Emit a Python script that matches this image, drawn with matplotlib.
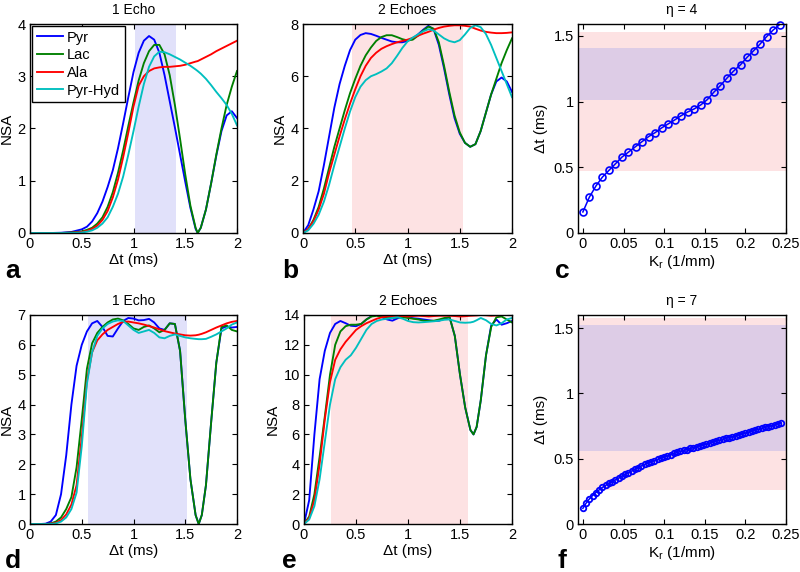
import matplotlib
matplotlib.use("Agg")
import matplotlib.pyplot as plt
from matplotlib.ticker import FormatStrFormatter

plt.rcParams['font.family'] = ['Liberation Sans', 'DejaVu Sans']

# ---- data ----
names = ['Pyr', 'Lac', 'Ala', 'Pyr-Hyd']
colors = ['#0000ff', '#008000', '#ff0000', '#00bfbf']

# panel a: 1 echo, eta = 4
a_dt = [0, 0.1, 0.2, 0.3, 0.4, 0.5, 0.55, 0.6, 0.65, 0.7, 0.75, 0.8, 0.85, 0.9, 0.95, 1.0,
        1.05, 1.1, 1.15, 1.2, 1.25, 1.3, 1.35, 1.4, 1.45, 1.5, 1.55, 1.6, 1.62, 1.65, 1.7,
        1.75, 1.8, 1.85, 1.9, 1.95, 2.0]
a_pyr = [0, 0, 0, 0.005, 0.02, 0.07, 0.12, 0.22, 0.38, 0.6, 0.88, 1.2, 1.62, 2.1, 2.6, 3.08,
         3.45, 3.68, 3.77, 3.7, 3.45, 3.02, 2.52, 2.02, 1.5, 0.98, 0.48, 0.08, 0.0, 0.1, 0.45,
         0.95, 1.48, 1.95, 2.25, 2.33, 2.2]
a_lac = [0, 0, 0, 0, 0.01, 0.03, 0.06, 0.1, 0.18, 0.3, 0.5, 0.78, 1.15, 1.58, 2.05, 2.5,
         2.92, 3.25, 3.48, 3.6, 3.6, 3.42, 3.02, 2.45, 1.8, 1.12, 0.52, 0.1, 0.0, 0.1, 0.45,
         0.95, 1.5, 2.0, 2.45, 2.8, 3.1]
a_ala = [0, 0, 0, 0, 0.005, 0.02, 0.04, 0.08, 0.14, 0.25, 0.42, 0.68, 1.02, 1.45, 1.92, 2.42,
         2.82, 3.0, 3.1, 3.15, 3.17, 3.18, 3.18, 3.19, 3.2, 3.22, 3.25, 3.28, 3.29, 3.32, 3.37,
         3.42, 3.48, 3.53, 3.58, 3.63, 3.68]
a_hyd = [0, 0, 0, 0, 0, 0.01, 0.025, 0.05, 0.1, 0.18, 0.3, 0.5, 0.75, 1.08, 1.5, 1.95,
         2.42, 2.85, 3.18, 3.38, 3.47, 3.46, 3.42, 3.37, 3.32, 3.26, 3.2, 3.13, 3.1, 3.05, 2.95,
         2.83, 2.7, 2.58, 2.45, 2.28, 2.06]

# panel b: 2 echoes, eta = 4
b_dt = [0, 0.05, 0.1, 0.15, 0.2, 0.25, 0.3, 0.35, 0.4, 0.45, 0.5, 0.55, 0.6, 0.65, 0.7, 0.75,
        0.8, 0.85, 0.9, 0.95, 1.0, 1.05, 1.1, 1.15, 1.2, 1.25, 1.3, 1.35, 1.4, 1.45, 1.5, 1.55,
        1.6, 1.65, 1.7, 1.75, 1.8, 1.85, 1.9, 1.95, 2.0]
b_pyr = [0, 0.3, 0.9, 1.6, 2.6, 3.7, 4.8, 5.7, 6.4, 7.0, 7.4, 7.58, 7.65, 7.62, 7.55, 7.47,
         7.4, 7.33, 7.3, 7.3, 7.35, 7.45, 7.6, 7.78, 7.93, 7.8, 7.2, 6.3, 5.3, 4.4, 3.8, 3.45,
         3.3, 3.4, 3.9, 4.6, 5.3, 5.8, 5.95, 5.8, 5.4]
b_lac = [0, 0.15, 0.5, 1.0, 1.7, 2.5, 3.3, 4.0, 4.7, 5.35, 5.9, 6.4, 6.8, 7.1, 7.35, 7.5,
         7.57, 7.57, 7.5, 7.42, 7.37, 7.4, 7.55, 7.75, 7.9, 7.82, 7.3, 6.4, 5.4, 4.5, 3.85, 3.45,
         3.3, 3.4, 3.9, 4.6, 5.3, 5.9, 6.5, 7.0, 7.45]
b_ala = [0, 0.15, 0.45, 0.9, 1.5, 2.3, 3.0, 3.7, 4.35, 4.95, 5.5, 6.0, 6.4, 6.7, 6.9, 7.05,
         7.15, 7.23, 7.3, 7.35, 7.4, 7.47, 7.55, 7.63, 7.7, 7.78, 7.85, 7.9, 7.93, 7.95, 7.95, 7.93,
         7.9, 7.82, 7.75, 7.7, 7.67, 7.65, 7.65, 7.66, 7.68]
b_hyd = [0, 0.1, 0.35, 0.7, 1.2, 1.85, 2.6, 3.3, 4.0, 4.65, 5.2, 5.6, 5.85, 6.0, 6.08, 6.18,
         6.3, 6.5, 6.78, 7.08, 7.33, 7.48, 7.6, 7.72, 7.8, 7.75, 7.6, 7.45, 7.35, 7.3, 7.38, 7.6,
         7.85, 7.95, 7.88, 7.62, 7.2, 6.7, 6.2, 5.7, 5.2]

# panels d, e: eta = 7
de_dt = [0, 0.05, 0.1, 0.15, 0.2, 0.25, 0.3, 0.35, 0.4, 0.45, 0.5, 0.55, 0.6, 0.65, 0.7, 0.75,
         0.8, 0.85, 0.9, 0.95, 1.0, 1.05, 1.1, 1.15, 1.2, 1.25, 1.3, 1.35, 1.4, 1.45, 1.5, 1.55,
         1.6, 1.63, 1.66, 1.7, 1.75, 1.8, 1.85, 1.9, 1.95, 2.0]
d_pyr = [0, 0, 0, 0.01, 0.08, 0.3, 1.0, 2.3, 4.0, 5.3, 6.0, 6.45, 6.72, 6.8, 6.6, 6.3,
         6.28, 6.55, 6.8, 6.9, 6.88, 6.82, 6.83, 6.87, 6.75, 6.55, 6.5, 6.72, 6.7, 5.8, 3.5, 1.5,
         0.3, 0.0, 0.3, 1.3, 3.4, 5.4, 6.55, 6.62, 6.58, 6.6]
d_lac = [0, 0, 0, 0, 0.02, 0.08, 0.22, 0.5, 0.9, 1.9, 3.5, 5.2, 6.05, 6.4, 6.6, 6.75,
         6.85, 6.88, 6.82, 6.7, 6.55, 6.5, 6.6, 6.65, 6.55, 6.42, 6.5, 6.72, 6.7, 5.8, 3.5, 1.5,
         0.3, 0.0, 0.3, 1.3, 3.4, 5.4, 6.6, 6.65, 6.5, 6.45]
d_ala = [0, 0, 0, 0, 0.01, 0.04, 0.13, 0.32, 0.65, 1.3, 2.9, 4.8, 5.75, 6.15, 6.35, 6.5,
         6.6, 6.7, 6.77, 6.78, 6.75, 6.72, 6.68, 6.63, 6.58, 6.52, 6.46, 6.42, 6.38, 6.35, 6.32, 6.31,
         6.32, 6.34, 6.37, 6.42, 6.5, 6.58, 6.65, 6.72, 6.77, 6.8]
d_hyd = [0, 0, 0, 0, 0, 0.02, 0.08, 0.22, 0.5, 1.05, 2.6, 4.7, 5.75, 6.3, 6.55, 6.7,
         6.78, 6.82, 6.8, 6.65, 6.5, 6.4, 6.45, 6.5, 6.4, 6.25, 6.22, 6.3, 6.35, 6.3, 6.25, 6.22,
         6.2, 6.19, 6.19, 6.2, 6.27, 6.35, 6.45, 6.55, 6.68, 6.75]
e_pyr = [0, 1.6, 6.0, 9.7, 11.6, 12.8, 13.4, 13.6, 13.45, 13.28, 13.25, 13.4, 13.7, 13.93, 14.0, 13.85,
         13.7, 13.62, 13.78, 13.9, 13.85, 13.78, 13.75, 13.7, 13.65, 13.6, 13.62, 13.75, 13.85, 12.6, 10.0, 7.8,
         6.3, 6.0, 6.5, 8.3, 11.3, 13.3, 13.7, 13.35, 13.45, 13.6]
e_lac = [0, 0.5, 2.0, 4.5, 7.2, 10.0, 12.0, 12.9, 13.25, 13.35, 13.35, 13.4, 13.7, 13.9, 13.95, 13.88,
         13.8, 13.8, 13.85, 13.85, 13.8, 13.75, 13.7, 13.62, 13.6, 13.62, 13.7, 13.8, 13.85, 12.6, 10.0, 7.8,
         6.3, 6.0, 6.5, 8.3, 11.3, 13.2, 13.85, 13.9, 13.7, 13.5]
e_ala = [0, 0.4, 1.6, 4.0, 7.0, 9.5, 11.0, 11.7, 12.2, 12.6, 13.0, 13.25, 13.45, 13.6, 13.75, 13.85,
         13.9, 13.93, 13.95, 13.93, 13.9, 13.93, 13.95, 13.93, 13.9, 13.93, 13.95, 13.95, 13.95, 13.93, 13.9, 13.92,
         13.95, 13.96, 13.97, 14.0, 13.98, 13.95, 13.97, 14.0, 14.0, 14.0]
e_hyd = [0, 0.3, 1.2, 3.0, 5.5, 8.0, 9.7, 10.5, 11.0, 11.3, 11.8, 12.4, 13.0, 13.4, 13.6, 13.7,
         13.75, 13.8, 13.85, 13.75, 13.6, 13.52, 13.5, 13.52, 13.55, 13.58, 13.62, 13.68, 13.7, 13.6, 13.5, 13.48,
         13.5, 13.55, 13.65, 13.8, 13.65, 13.4, 13.3, 13.45, 13.7, 13.8]

# panels c, f: optimal dt vs Kr
c_kr = [0, 0.008, 0.016, 0.024, 0.032, 0.040, 0.048, 0.056, 0.065, 0.073, 0.081, 0.089, 0.097,
        0.105, 0.113, 0.121, 0.129, 0.137, 0.145, 0.153, 0.161, 0.169, 0.177, 0.185, 0.194,
        0.202, 0.210, 0.218, 0.226, 0.234, 0.242]
c_dt = [0.16, 0.273, 0.357, 0.425, 0.476, 0.526, 0.577, 0.615, 0.658, 0.696, 0.734, 0.764, 0.8,
        0.83, 0.86, 0.893, 0.921, 0.944, 0.974, 1.014, 1.07, 1.12, 1.176, 1.229, 1.28, 1.336,
        1.386, 1.437, 1.493, 1.543, 1.585]
f_kr = [0, 0.004, 0.008, 0.012, 0.016, 0.020, 0.024, 0.028, 0.032, 0.036, 0.040, 0.044, 0.048,
        0.052, 0.056, 0.060, 0.064, 0.068, 0.072, 0.076, 0.080, 0.084, 0.088, 0.092, 0.096,
        0.100, 0.104, 0.108, 0.112, 0.116, 0.120, 0.124, 0.128, 0.132, 0.136, 0.140, 0.144,
        0.148, 0.152, 0.156, 0.160, 0.164, 0.168, 0.172, 0.176, 0.180, 0.184, 0.188, 0.192,
        0.196, 0.200, 0.204, 0.208, 0.212, 0.216, 0.220, 0.224, 0.228, 0.232, 0.236, 0.240, 0.244]
f_dt = [0.120, 0.160, 0.192, 0.218, 0.241, 0.261, 0.280, 0.296, 0.311, 0.323, 0.338, 0.352, 0.366,
        0.380, 0.393, 0.406, 0.419, 0.432, 0.445, 0.457, 0.467, 0.477, 0.486, 0.495, 0.504,
        0.513, 0.522, 0.531, 0.540, 0.548, 0.556, 0.563, 0.570, 0.578, 0.585, 0.592, 0.599,
        0.606, 0.613, 0.620, 0.627, 0.634, 0.641, 0.648, 0.655, 0.662, 0.669, 0.676, 0.683,
        0.690, 0.697, 0.704, 0.711, 0.718, 0.725, 0.732, 0.739, 0.746, 0.753, 0.760, 0.767, 0.775]

# shaded dt ranges
band_1echo_4 = (1.01, 1.41)
band_2echo_4 = (0.47, 1.53)
band_1echo_7 = (0.56, 1.52)
band_2echo_7 = (0.26, 1.58)

BLUE_BAND = '#e1e1fa'
PINK_BAND = '#fde2e3'
BOTH_BAND = '#ddcce6'


def rect(l, t, r, b):
    return [l / 800, 1 - b / 572, (r - l) / 800, (b - t) / 572]


def style(ax):
    ax.tick_params(direction='in', top=True, right=True, length=3.5, width=0.8,
                   labelsize=10.5, pad=3)
    for s in ax.spines.values():
        s.set_linewidth(1.0)
        s.set_zorder(5)
    ax.xaxis.set_major_formatter(FormatStrFormatter('%g'))
    ax.yaxis.set_major_formatter(FormatStrFormatter('%g'))


def nsa_panel(pos, title, dt, series, ymax, ystep, band, band_col, legend=False):
    ax = fig.add_axes(rect(*pos))
    ax.axvspan(band[0], band[1], color=band_col, lw=0, zorder=0)
    for y, c, n in zip(series, colors, names):
        ax.plot(dt, y, color=c, lw=1.35, label=n, zorder=2)
    ax.set_xlim(0, 2)
    ax.set_ylim(0, ymax)
    ax.set_xticks([0, 0.5, 1, 1.5, 2])
    ax.set_yticks(list(range(0, ymax + 1, ystep)))
    ax.set_title(title, fontsize=10, pad=7)
    ax.set_xlabel('Δt (ms)', fontsize=11, labelpad=1)
    ax.set_ylabel('NSA', fontsize=11, labelpad=3)
    style(ax)
    if legend:
        leg = ax.legend(loc='upper left', fontsize=10.5, handlelength=1.8, handletextpad=0.3,
                        labelspacing=0.25, borderaxespad=0.15, borderpad=0.3, fancybox=False,
                        framealpha=1)
        leg.get_frame().set_edgecolor('black')
        leg.get_frame().set_linewidth(1.0)
        leg.set_zorder(6)
    return ax


def kr_panel(pos, title, kr, dt, ymax, pink, both, ms, mew):
    ax = fig.add_axes(rect(*pos))
    ax.axhspan(pink[0], pink[1], color=PINK_BAND, lw=0, zorder=0)
    ax.axhspan(both[0], both[1], color=BOTH_BAND, lw=0, zorder=0)
    ax.plot(kr, dt, '-o', color='#0000ff', lw=1.1, ms=ms, mfc='none', mew=mew,
            zorder=3, clip_on=False)
    ax.set_xlim(-0.006, 0.25)
    ax.set_ylim(0, ymax)
    ax.set_xticks([0, 0.05, 0.1, 0.15, 0.2, 0.25])
    ax.set_yticks([0, 0.5, 1, 1.5])
    ax.set_title(title, fontsize=10, pad=7)
    ax.set_xlabel('K$_\\mathregular{r}$ (1/mm)', fontsize=11, labelpad=1)
    ax.set_ylabel('Δt (ms)', fontsize=11, labelpad=4)
    style(ax)
    return ax


fig = plt.figure(figsize=(8, 5.72), dpi=100)

nsa_panel((30, 24, 237, 233), '1 Echo', a_dt, [a_pyr, a_lac, a_ala, a_hyd], 4, 1,
          band_1echo_4, BLUE_BAND, legend=True)
nsa_panel((303, 24, 512, 233), '2 Echoes', b_dt, [b_pyr, b_lac, b_ala, b_hyd], 8, 2,
          band_2echo_4, PINK_BAND)
kr_panel((578, 24, 786, 233), 'η = 4', c_kr, c_dt, 1.59, band_2echo_4, band_1echo_4, 5, 1.2)

nsa_panel((30, 315, 237, 524), '1 Echo', de_dt, [d_pyr, d_lac, d_ala, d_hyd], 7, 1,
          band_1echo_7, BLUE_BAND)
nsa_panel((304, 315, 512, 524), '2 Echoes', de_dt, [e_pyr, e_lac, e_ala, e_hyd], 14, 2,
          band_2echo_7, PINK_BAND)
kr_panel((578, 315, 786, 524), 'η = 7', f_kr, f_dt, 1.6, band_2echo_7, band_1echo_7, 4, 1.3)

# panel letters
for letter, x, y in [('a', 5, 278), ('b', 282, 278), ('c', 555, 278),
                     ('d', 5, 568), ('e', 282, 568), ('f', 558, 568)]:
    fig.text(x / 800, 1 - y / 572, letter, fontsize=19, fontweight='bold', va='baseline')

fig.savefig('out.png', dpi=100)
